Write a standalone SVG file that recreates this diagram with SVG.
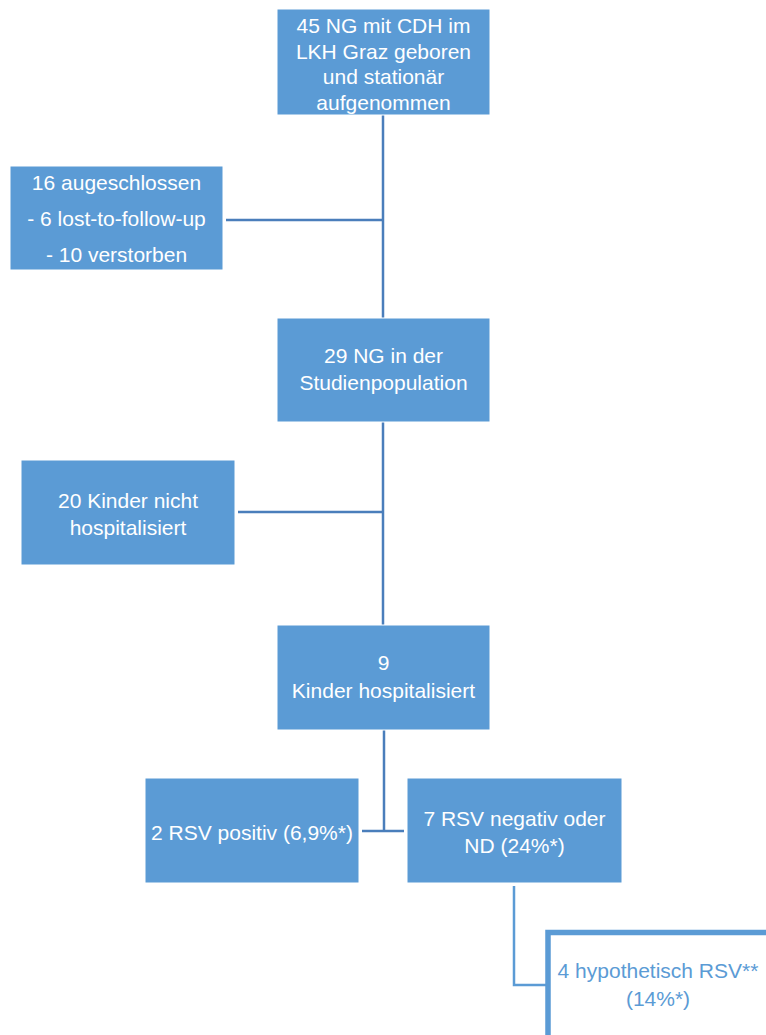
<svg xmlns="http://www.w3.org/2000/svg" width="766" height="1035" viewBox="0 0 766 1035">
<style>
.box{fill:#5b9bd5;stroke:#ffffff;stroke-width:1}
.t{font-family:"Liberation Sans",Arial,sans-serif;font-size:21px;fill:#ffffff;text-anchor:middle}
.tb{font-family:"Liberation Sans",Arial,sans-serif;font-size:21px;fill:#5b9bd5;text-anchor:middle}
.c{fill:none;stroke:#4a7ebb;stroke-width:2.5}
.c2{fill:none;stroke:#5b9bd5;stroke-width:2.5}
</style>
<rect width="766" height="1035" fill="#ffffff"/>
<g id="connectors">
<line class="c" x1="383" y1="115" x2="383" y2="318"/>
<line class="c" x1="226" y1="220" x2="383" y2="220"/>
<line class="c" x1="383" y1="422" x2="383" y2="625"/>
<line class="c" x1="238" y1="512" x2="383" y2="512"/>
<line class="c" x1="384" y1="730" x2="384" y2="831"/>
<line class="c" x1="362" y1="831" x2="404" y2="831"/>
<polyline class="c2" points="514,886 514,985 546,985"/>
</g>
<g id="n1">
<rect class="box" x="277" y="9" width="213" height="106"/>
<text class="t" x="383.5" y="33">45 NG mit CDH im</text>
<text class="t" x="383.5" y="59">LKH Graz geboren</text>
<text class="t" x="383.5" y="84">und stationär</text>
<text class="t" x="383.5" y="110">aufgenommen</text>
</g>
<g id="n2">
<rect class="box" x="10" y="166" width="213" height="104"/>
<text class="t" x="116.5" y="190">16 augeschlossen</text>
<text class="t" x="116.5" y="226">- 6 lost-to-follow-up</text>
<text class="t" x="116.5" y="262">- 10 verstorben</text>
</g>
<g id="n3">
<rect class="box" x="277" y="318" width="213" height="104"/>
<text class="t" x="383.5" y="363">29 NG in der</text>
<text class="t" x="383.5" y="390">Studienpopulation</text>
</g>
<g id="n4">
<rect class="box" x="21" y="460" width="214" height="105"/>
<text class="t" x="128" y="508">20 Kinder nicht</text>
<text class="t" x="128" y="535">hospitalisiert</text>
</g>
<g id="n5">
<rect class="box" x="277" y="625" width="213" height="105"/>
<text class="t" x="383.5" y="670">9</text>
<text class="t" x="383.5" y="698">Kinder hospitalisiert</text>
</g>
<g id="n6">
<rect class="box" x="145" y="778" width="214" height="105"/>
<text class="t" x="252" y="840">2 RSV positiv (6,9%*)</text>
</g>
<g id="n7">
<rect class="box" x="407" y="778" width="215" height="105"/>
<text class="t" x="514.5" y="826">7 RSV negativ oder</text>
<text class="t" x="514.5" y="853">ND (24%*)</text>
</g>
<g id="n8">
<rect x="548" y="932.5" width="230" height="120" fill="#ffffff" stroke="#5b9bd5" stroke-width="5.5"/>
<text class="tb" x="658" y="978">4 hypothetisch RSV**</text>
<text class="tb" x="658" y="1006">(14%*)</text>
</g>
</svg>
